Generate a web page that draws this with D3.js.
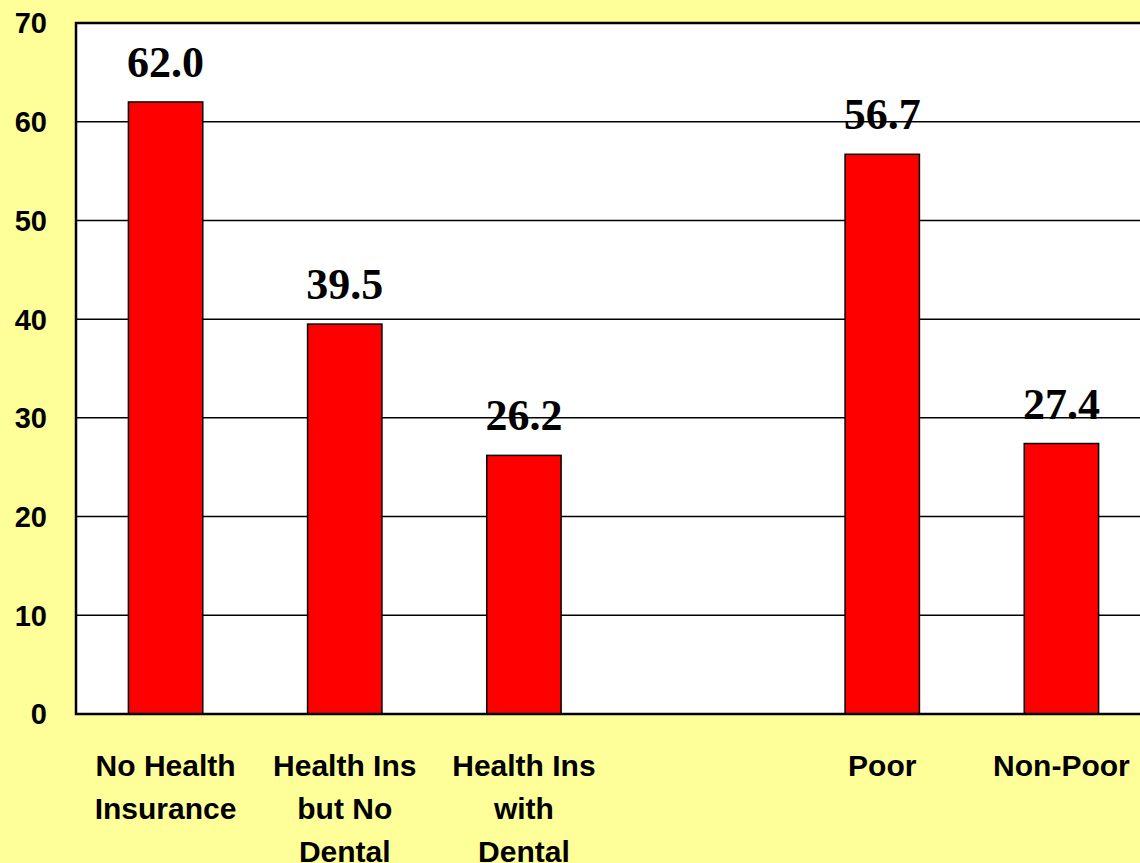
<!DOCTYPE html>
<html>
  <head>
    <meta charset="utf-8">
    <title>Dental chart</title>
    <script src="https://d3js.org/d3.v7.min.js"></script>
    <style>
    body { margin: 0; background: #ffff99; }
    .tick-label { font-family: "Liberation Sans", Arial, sans-serif; font-weight: bold; font-size: 29px; }
    .cat-label { font-family: "Liberation Sans", Arial, sans-serif; font-weight: bold; font-size: 30px; }
    .val-label { font-family: "Liberation Serif", "Times New Roman", serif; font-weight: bold; font-size: 44px; }
    </style>
  </head>
  <body>
<script>
// categories, with an empty slot between the two groups
var categories = ['No Health|Insurance', 'Health Ins|but No|Dental', 'Health Ins|with|Dental', '', 'Poor', 'Non-Poor'];
var values = [62.0, 39.5, 26.2, null, 56.7, 27.4];
var valueLabels = ['62.0', '39.5', '26.2', '', '56.7', '27.4'];
var yTicks = [0, 10, 20, 30, 40, 50, 60, 70];

var width = 1140, height = 863;
var plotLeft = 76, plotTop = 23, plotBottom = 714, plotRight = 1151;

var svg = d3.select('body').append('svg')
  .attr('width', width)
  .attr('height', height);

svg.append('rect')
  .attr('width', width).attr('height', height)
  .attr('fill', '#ffff99');

var y = d3.scaleLinear()
  .domain([0, 70])
  .range([plotBottom, plotTop]);

var x = d3.scaleBand()
  .domain(d3.range(categories.length))
  .range([plotLeft, plotRight])
  .paddingInner(0.585)
  .paddingOuter(0.2925);

// plot area
svg.append('rect')
  .attr('x', plotLeft).attr('y', plotTop)
  .attr('width', plotRight - plotLeft).attr('height', plotBottom - plotTop)
  .attr('fill', '#fff');

// gridlines
svg.selectAll('.grid')
  .data(yTicks.slice(1, -1))
  .enter().append('line')
    .attr('x1', plotLeft).attr('x2', plotRight)
    .attr('y1', function(d) { return y(d); })
    .attr('y2', function(d) { return y(d); })
    .attr('stroke', '#000')
    .attr('stroke-width', 1.5);

// bars
var barData = values.map(function(v, i) { return { i: i, v: v, label: valueLabels[i] }; })
  .filter(function(d) { return d.v !== null; });

svg.selectAll('.bar')
  .data(barData)
  .enter().append('rect')
    .attr('x', function(d) { return x(d.i); })
    .attr('y', function(d) { return y(d.v); })
    .attr('width', x.bandwidth())
    .attr('height', function(d) { return y(0) - y(d.v); })
    .attr('fill', '#ff0000')
    .attr('stroke', '#000')
    .attr('stroke-width', 1.5);

// value labels
svg.selectAll('.val-label')
  .data(barData)
  .enter().append('text')
    .attr('class', 'val-label')
    .attr('x', function(d) { return x(d.i) + x.bandwidth() / 2; })
    .attr('y', function(d) { return y(d.v) - 25; })
    .attr('text-anchor', 'middle')
    .text(function(d) { return d.label; });

// plot border
svg.append('rect')
  .attr('x', plotLeft).attr('y', plotTop)
  .attr('width', plotRight - plotLeft).attr('height', plotBottom - plotTop)
  .attr('fill', 'none')
  .attr('stroke', '#000')
  .attr('stroke-width', 2.5);

// y tick labels
svg.selectAll('.tick-label')
  .data(yTicks)
  .enter().append('text')
    .attr('class', 'tick-label')
    .attr('x', 47)
    .attr('y', function(d) { return y(d); })
    .attr('dy', '0.36em')
    .attr('text-anchor', 'end')
    .text(function(d) { return d; });

// category labels
categories.forEach(function(c, i) {
  if (!c) return;
  var cx = x(i) + x.bandwidth() / 2;
  var t = svg.append('text')
    .attr('class', 'cat-label')
    .attr('text-anchor', 'middle');
  c.split('|').forEach(function(line, k) {
    t.append('tspan')
      .attr('x', cx)
      .attr('y', 776 + k * 43)
      .text(line);
  });
});
</script>
  </body>
</html>
